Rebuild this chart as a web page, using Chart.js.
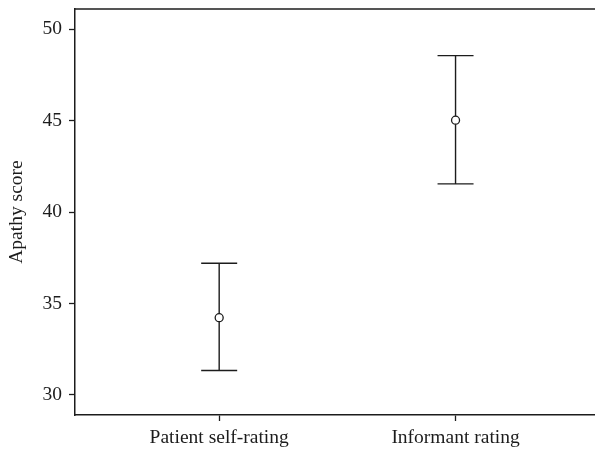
<!DOCTYPE html>
<html>
<head>
<meta charset="utf-8">
<script src="https://cdn.jsdelivr.net/npm/chart.js@4/dist/chart.umd.min.js"></script>
<style>
    html, body { margin: 0; padding: 0; background: #fff; }
    #wrap { width: 595px; height: 453px; }
</style>
</head>
<body>
<div id="wrap"><canvas id="apathyChart" width="595" height="453"></canvas></div>
<script>
// 데이터
const categories = ['Patient self-rating', 'Informant rating'];
const meanScores = [34.22, 45.02];
const upperScores = [37.2, 48.55];
const lowerScores = [31.33, 41.54];
const yTicks = [30, 35, 40, 45, 50];

const FONT = { family: '"Liberation Serif", "Times New Roman", serif', size: 19.5 };
const INK = '#1c1c1c';

// 에러바 그리기 (스케일 기준)
const errorBarPlugin = {
    id: 'errorBars',
    beforeDatasetsDraw(chart) {
        const { ctx, scales: { x, y } } = chart;
        ctx.save();
        ctx.strokeStyle = INK;
        ctx.lineWidth = 1.4;
        categories.forEach((c, i) => {
            const px = x.getPixelForValue(i + 1);
            const top = y.getPixelForValue(upperScores[i]);
            const bot = y.getPixelForValue(lowerScores[i]);
            ctx.beginPath();
            ctx.moveTo(px, top);
            ctx.lineTo(px, bot);
            ctx.moveTo(px - 18, top);
            ctx.lineTo(px + 18, top);
            ctx.moveTo(px - 18, bot);
            ctx.lineTo(px + 18, bot);
            ctx.stroke();
        });
        ctx.restore();
    },
    afterDraw(chart) {
        // 위쪽 테두리
        const { ctx, chartArea } = chart;
        ctx.save();
        ctx.strokeStyle = INK;
        ctx.lineWidth = 1.5;
        ctx.beginPath();
        ctx.moveTo(chartArea.left, chartArea.top);
        ctx.lineTo(chartArea.right, chartArea.top);
        ctx.stroke();
        ctx.restore();
    }
};

new Chart(document.getElementById('apathyChart'), {
    type: 'scatter',
    data: {
        datasets: [{
            data: meanScores.map((v, i) => ({ x: i + 1, y: v })),
            pointRadius: 4,
            pointBorderWidth: 1.3,
            pointBorderColor: INK,
            pointBackgroundColor: '#fff',
            showLine: false,
            clip: false
        }]
    },
    options: {
        responsive: false,
        animation: false,
        layout: { autoPadding: false, padding: { top: 9, right: 0, bottom: 0, left: 0 } },
        plugins: { legend: { display: false }, tooltip: { enabled: false } },
        scales: {
            x: {
                type: 'linear',
                min: 0.39,
                max: 2.59,
                afterBuildTicks: scale => { scale.ticks = categories.map((c, i) => ({ value: i + 1 })); },
                afterFit: scale => {
                    scale.height = 38;
                    scale.paddingLeft = 0;
                    scale.paddingRight = 0;
                },
                ticks: {
                    callback: v => categories[v - 1] || '',
                    font: FONT,
                    color: INK,
                    padding: 5,
                    maxRotation: 0
                },
                grid: { drawOnChartArea: false, drawTicks: true, tickLength: 6, tickWidth: 1.3, tickColor: INK },
                border: { display: true, color: INK, width: 1.5 }
            },
            y: {
                min: 28.9,
                max: 51.1,
                afterBuildTicks: scale => { scale.ticks = yTicks.map(v => ({ value: v })); },
                afterFit: scale => {
                    scale.width = 75;
                    scale.paddingTop = 0;
                    scale.paddingBottom = 0;
                },
                ticks: { font: FONT, color: INK, padding: 7 },
                grid: { drawOnChartArea: false, drawTicks: true, tickLength: 6, tickWidth: 1.3, tickColor: INK },
                border: { display: true, color: INK, width: 1.5 },
                title: {
                    display: true,
                    text: 'Apathy score',
                    font: FONT,
                    color: INK,
                    padding: { top: 5, bottom: 0 }
                }
            }
        }
    },
    plugins: [errorBarPlugin]
});
</script>
</body>
</html>
